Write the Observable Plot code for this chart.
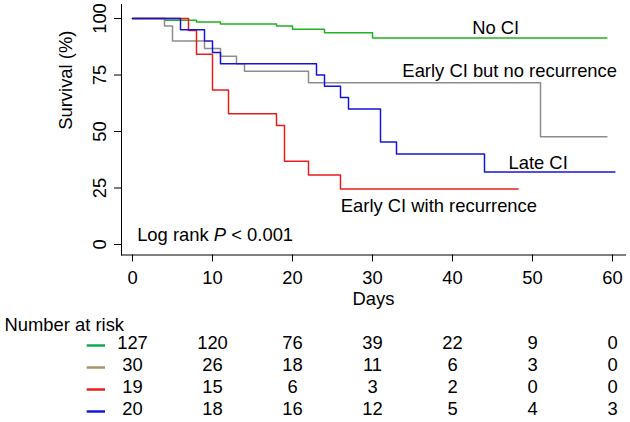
<!DOCTYPE html>
<html>
<head>
<meta charset="utf-8">
<script src="https://cdn.jsdelivr.net/npm/d3@7"></script>
<script src="https://cdn.jsdelivr.net/npm/@observablehq/plot@0.6"></script>
<style>
  html, body { margin: 0; padding: 0; background: white; }
  #chart { width: 630px; height: 422px; overflow: hidden; }
</style>
</head>
<body>
<div id="chart"></div>
<script>
// ---- data ----
const groups = ["No CI", "Early CI but no recurrence", "Early CI with recurrence", "Late CI"];
const curveColors = ["#1fb31f", "#8c8c8c", "#e81c1c", "#1414d8"];
const tableColors = ["#12a84e", "#a8956a", "#f01c1c", "#1818d8"];

const noCiTime = [0, 4, 8, 11, 18, 20, 24, 30, 59.3];
const noCiSurv = [100, 99.2, 98.4, 97.6, 96.7, 95.2, 93.7, 91.4, 91.4];

const earlyNoRecTime = [0, 4, 5, 9, 11, 13, 14, 22, 51, 59.3];
const earlyNoRecSurv = [100, 96.7, 90, 86.7, 83.3, 80, 76.7, 71.6, 47.7, 47.7];

const earlyRecTime = [0, 7, 8, 10, 12, 18, 19, 22, 26, 48.2];
const earlyRecSurv = [100, 94.7, 84.2, 68.4, 57.9, 52.6, 36.8, 30.7, 24.6, 24.6];

const lateTime = [0, 6, 9, 10, 11, 23, 24, 26, 27, 31, 33, 44, 60.3];
const lateSurv = [100, 95, 90, 85, 80, 75, 70, 65, 60, 45.4, 40, 32.1, 32.1];

const xTicks = [0, 10, 20, 30, 40, 50, 60];
const yTicks = [0, 25, 50, 75, 100];

const riskNoCi = [127, 120, 76, 39, 22, 9, 0];
const riskEarlyNoRec = [30, 26, 18, 11, 6, 3, 0];
const riskEarlyRec = [19, 15, 6, 3, 2, 0, 0];
const riskLate = [20, 18, 16, 12, 5, 4, 3];

// annotation labels (data units)
const labelText = ["No CI", "Early CI but no recurrence", "Late CI", "Early CI with recurrence"];
const labelX = [45.4, 47.15, 50.7, 38.3];
const labelY = [95.9, 76.7, 36.15, 17.0];
const pText = "Log rank P < 0.001";
const pX = 0.58, pY = 4.0;

// ---- build tables ----
const series = [
  [noCiTime, noCiSurv],
  [earlyNoRecTime, earlyNoRecSurv],
  [earlyRecTime, earlyRecSurv],
  [lateTime, lateSurv]
];
const curves = [];
series.forEach(([t, s], i) => t.forEach((d, j) => curves.push({group: groups[i], t: d, s: s[j]})));
const labels = labelText.map((d, i) => ({text: d, x: labelX[i], y: labelY[i]}));
const risk = [];
[riskNoCi, riskEarlyNoRec, riskEarlyRec, riskLate].forEach((arr, i) =>
  arr.forEach((n, j) => risk.push({group: groups[i], day: xTicks[j], n})));

const font = "'Liberation Sans', Arial, Helvetica, sans-serif";
const fs = 18.4;

const topPlot = Plot.plot({
  width: 630,
  height: 310,
  marginTop: 4,
  marginBottom: 55.5,
  marginLeft: 121,
  marginRight: 5,
  style: {fontFamily: font, fontSize: fs + "px", background: "white", color: "black"},
  x: {domain: [0, 60], range: [132, 612]},
  y: {domain: [0, 100], range: [244, 18]},
  color: {domain: groups, range: curveColors},
  marks: [
    Plot.frame({anchor: "left"}),
    Plot.frame({anchor: "bottom"}),
    Plot.axisX({ticks: xTicks, tickSize: 7, tickPadding: 8.5, fontSize: fs, label: null}),
    Plot.axisY({ticks: yTicks, tickSize: 7, tickPadding: 9, tickRotate: -90, fontSize: fs, label: null}),
    Plot.text(["Days"], {frameAnchor: "bottom", dy: 49.5, fontSize: fs}),
    Plot.text(["Survival (%)"], {frameAnchor: "left", rotate: -90, dx: -55, fontSize: fs}),
    Plot.line(curves, {x: "t", y: "s", z: "group", stroke: "group", curve: "step-after", strokeWidth: 1.5}),
    Plot.text(labels, {x: "x", y: "y", text: "text", fontSize: fs}),
    Plot.text([pText], {x: () => pX, y: () => pY, textAnchor: "start", fontSize: fs})
  ]
});

const bottomPlot = Plot.plot({
  width: 630,
  height: 112,
  marginTop: 0,
  marginBottom: 0,
  marginLeft: 86.7,
  marginRight: 525,
  style: {fontFamily: font, fontSize: fs + "px", background: "white", color: "black"},
  x: {domain: [0, 60], range: [132, 612], axis: null},
  y: {type: "point", domain: groups, range: [32.4, 100], padding: 0, axis: null},
  color: {domain: groups, range: tableColors},
  marks: [
    Plot.text(["Number at risk"], {frameAnchor: "top-left", textAnchor: "start", dx: -82.7, dy: 7.5, fontSize: fs}),
    Plot.ruleY(groups, {y: d => d, stroke: d => d, strokeWidth: 2.5, dy: 2}),
    Plot.text(risk, {x: "day", y: "group", text: "n", fontSize: fs})
  ]
});

// italic P
d3.select(topPlot).selectAll("text").each(function() {
  if (this.textContent === pText) {
    const el = d3.select(this);
    el.text(null);
    el.append("tspan").text("Log rank ");
    el.append("tspan").attr("font-style", "italic").text("P");
    el.append("tspan").text(" < 0.001");
  }
});

const c = document.getElementById("chart");
c.appendChild(topPlot);
c.appendChild(bottomPlot);
</script>
</body>
</html>
